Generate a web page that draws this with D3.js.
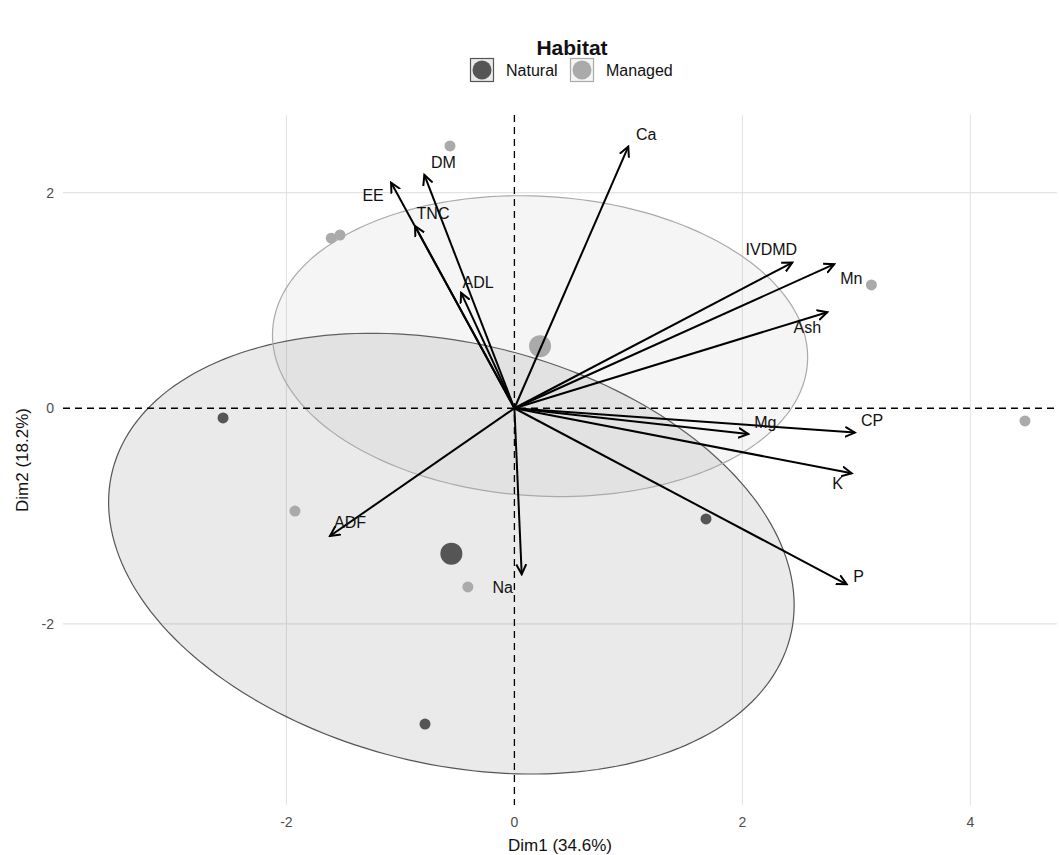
<!DOCTYPE html>
<html><head><meta charset="utf-8">
<script src="https://cdn.jsdelivr.net/npm/d3@7"></script>
<style>
body{margin:0;background:#fff;}
svg{display:block;font-family:"Liberation Sans",Arial,Helvetica,sans-serif;}
</style>
</head><body><div id="chart"></div>
<script>
// ---------------- data ----------------
const groups = ["Natural", "Managed"];
const indX = [-2.556, 1.681, -0.784, -0.565, -1.607, -1.530, 3.132, 4.479, -1.925, -0.408];
const indY = [-0.090, -1.027, -2.929, 2.433, 1.577, 1.607, 1.144, -0.118, -0.954, -1.657];
const indGroup = ["Natural", "Natural", "Natural", "Managed", "Managed", "Managed", "Managed", "Managed", "Managed", "Managed"];
const varNames = ["Ca", "DM", "EE", "TNC", "ADL", "IVDMD", "Mn", "Ash", "Mg", "CP", "K", "P", "ADF", "Na"];
const varX = [0.999, -0.790, -1.082, -0.872, -0.468, 2.438, 2.806, 2.745, 2.052, 2.988, 2.959, 2.915, -1.618, 0.064];
const varY = [2.427, 2.164, 2.093, 1.691, 1.072, 1.351, 1.336, 0.891, -0.238, -0.226, -0.603, -1.633, -1.185, -1.540];
const xTicks = [-2, 0, 2, 4];
const yTicks = [-2, 0, 2];
const xLabel = "Dim1 (34.6%)";
const yLabel = "Dim2 (18.2%)";
const legendTitle = "Habitat";
const CHISQ_95_2DF = 5.991; // qchisq(0.95, 2) for confidence ellipses

// ---------------- styles / layout ----------------
const groupColor = {Natural: "#555555", Managed: "#aaaaaa"};
const labelNudge = { // pixel offsets for variable labels (repel-like placement)
  Ca: [18, -12], DM: [19, -12], EE: [-18, 13], TNC: [18, -12], ADL: [17, -10],
  IVDMD: [-21, -13], Mn: [17, 14], Ash: [-20, 15], Mg: [17, -11], CP: [17, -12],
  K: [-14, 10], P: [12, -8], ADF: [20, -14], Na: [-19, 13]
};
const W = 1059, H = 855;
const panel = {left: 63, right: 1057, top: 115, bottom: 805};

const svg = d3.select("#chart").append("svg").attr("width", W).attr("height", H);

const x = d3.scaleLinear().domain([-3.96, 4.76]).range([panel.left, panel.right]);
const y = d3.scaleLinear().domain([-3.68, 2.72]).range([panel.bottom, panel.top]);

// grid
const grid = svg.append("g");
grid.selectAll("line.v").data(xTicks.filter(d => d !== 0)).join("line")
  .attr("x1", d => x(d)).attr("x2", d => x(d)).attr("y1", panel.top).attr("y2", panel.bottom)
  .attr("stroke", "#e3e3e3").attr("stroke-width", 1.1);
grid.selectAll("line.h").data(yTicks.filter(d => d !== 0)).join("line")
  .attr("y1", d => y(d)).attr("y2", d => y(d)).attr("x1", panel.left).attr("x2", panel.right)
  .attr("stroke", "#e3e3e3").attr("stroke-width", 1.1);

// individuals
const inds = indX.map((v, i) => ({x: v, y: indY[i], g: indGroup[i]}));

// confidence ellipses
function confEllipse(pts) {
  const n = pts.length;
  const mx = d3.mean(pts, p => p.x), my = d3.mean(pts, p => p.y);
  let sxx = 0, syy = 0, sxy = 0;
  pts.forEach(p => { sxx += (p.x - mx) ** 2; syy += (p.y - my) ** 2; sxy += (p.x - mx) * (p.y - my); });
  sxx /= (n - 1); syy /= (n - 1); sxy /= (n - 1);
  const r = Math.sqrt(CHISQ_95_2DF / n);
  const a = Math.sqrt(sxx), b = sxy / a, c = Math.sqrt(syy - b * b);
  return d3.range(0, 201).map(i => {
    const t = i / 200 * 2 * Math.PI;
    return [mx + r * a * Math.cos(t), my + r * (b * Math.cos(t) + c * Math.sin(t))];
  });
}
const line = d3.line().x(d => x(d[0])).y(d => y(d[1]));
const ell = svg.append("g");
groups.forEach(g => {
  const pts = inds.filter(p => p.g === g);
  ell.append("path").attr("d", line(confEllipse(pts)) + "Z")
    .attr("fill", groupColor[g]).attr("fill-opacity", 0.12)
    .attr("stroke", groupColor[g]).attr("stroke-width", 1.2);
});

// dashed zero lines
svg.append("line").attr("x1", panel.left).attr("x2", panel.right).attr("y1", y(0)).attr("y2", y(0))
  .attr("stroke", "#000").attr("stroke-width", 1.3).attr("stroke-dasharray", "7,5");
svg.append("line").attr("x1", x(0)).attr("x2", x(0)).attr("y1", panel.top).attr("y2", panel.bottom)
  .attr("stroke", "#000").attr("stroke-width", 1.3).attr("stroke-dasharray", "7,5");

// points
svg.append("g").selectAll("circle").data(inds).join("circle")
  .attr("cx", d => x(d.x)).attr("cy", d => y(d.y)).attr("r", 5.5)
  .attr("fill", d => groupColor[d.g]);
// centroids
groups.forEach(g => {
  const pts = inds.filter(p => p.g === g);
  svg.append("circle").attr("cx", x(d3.mean(pts, p => p.x))).attr("cy", y(d3.mean(pts, p => p.y)))
    .attr("r", 11).attr("fill", groupColor[g]);
});

// arrows
const defs = svg.append("defs");
defs.append("marker").attr("id", "arr").attr("viewBox", "0 -6 12 12").attr("refX", 10).attr("refY", 0)
  .attr("markerWidth", 12).attr("markerHeight", 12).attr("markerUnits", "userSpaceOnUse").attr("orient", "auto")
  .append("path").attr("d", "M0,-5 L10,0 L0,5").attr("fill", "none").attr("stroke", "#000").attr("stroke-width", 2);
const vars = varNames.map((n, i) => ({n, x: varX[i], y: varY[i]}));
svg.append("g").selectAll("line").data(vars).join("line")
  .attr("x1", x(0)).attr("y1", y(0)).attr("x2", d => x(d.x)).attr("y2", d => y(d.y))
  .attr("stroke", "#000").attr("stroke-width", 2).attr("marker-end", "url(#arr)");
svg.append("g").selectAll("text").data(vars).join("text")
  .attr("x", d => x(d.x) + labelNudge[d.n][0]).attr("y", d => y(d.y) + labelNudge[d.n][1])
  .attr("text-anchor", "middle").attr("dominant-baseline", "central")
  .attr("font-size", 16).attr("fill", "#111").text(d => d.n);

// axes tick labels
svg.append("g").selectAll("text").data(xTicks).join("text")
  .attr("x", d => x(d)).attr("y", panel.bottom + 17).attr("text-anchor", "middle").attr("dominant-baseline", "central")
  .attr("font-size", 14).attr("fill", "#4d4d4d").text(d => d);
svg.append("g").selectAll("text").data(yTicks).join("text")
  .attr("x", panel.left - 9).attr("y", d => y(d)).attr("text-anchor", "end").attr("dominant-baseline", "central")
  .attr("font-size", 14).attr("fill", "#4d4d4d").text(d => d);
svg.append("text").attr("x", (panel.left + panel.right) / 2).attr("y", 845).attr("text-anchor", "middle")
  .attr("dominant-baseline", "central").attr("font-size", 17).attr("fill", "#111").text(xLabel);
svg.append("text").attr("transform", `translate(22,${(panel.top + panel.bottom) / 2}) rotate(-90)`)
  .attr("text-anchor", "middle").attr("dominant-baseline", "central").attr("font-size", 17).attr("fill", "#111").text(yLabel);

// legend
const lg = svg.append("g");
lg.append("text").attr("x", 572).attr("y", 47).attr("text-anchor", "middle").attr("dominant-baseline", "central")
  .attr("font-size", 21).attr("font-weight", "bold").attr("fill", "#111").text(legendTitle);
const keyX = [470, 570];
groups.forEach((g, i) => {
  const kx = keyX[i], ky = 58;
  lg.append("rect").attr("x", kx + 0.5).attr("y", ky + 0.5).attr("width", 23).attr("height", 23)
    .attr("fill", groupColor[g]).attr("fill-opacity", 0.12).attr("stroke", groupColor[g]).attr("stroke-width", 1.2);
  lg.append("circle").attr("cx", kx + 12).attr("cy", ky + 12).attr("r", 9.5).attr("fill", groupColor[g]);
  lg.append("text").attr("x", kx + 36).attr("y", ky + 12).attr("dominant-baseline", "central")
    .attr("font-size", 16).attr("fill", "#111").text(g);
});
</script>
</body></html>
